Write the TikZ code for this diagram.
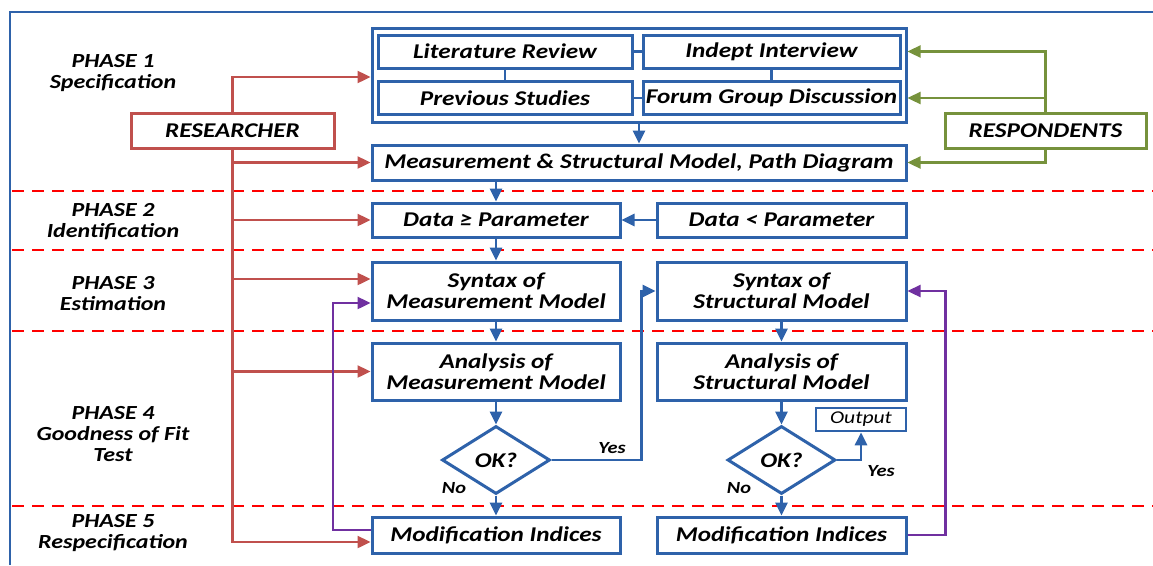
\documentclass[tikz,border=0pt]{standalone}
\usepackage{fontspec}
\setmainfont{Carlito}[FakeStretch=1.2]
\usetikzlibrary{arrows.meta,calc,shapes.geometric}
\definecolor{flowblue}{RGB}{46,98,170}
\definecolor{resred}{RGB}{192,80,77}
\definecolor{respgreen}{RGB}{118,146,60}
\definecolor{loopviolet}{RGB}{112,48,160}
\definecolor{phasered}{RGB}{255,0,0}
\begin{document}
\begin{tikzpicture}[x=1pt,y=-1pt,
  txt/.style={font=\fontsize{21}{21}\selectfont\bfseries\itshape},
  box/.style={txt,draw=flowblue,line width=3pt,fill=white,rectangle,
    inner sep=0pt,align=center},
  actor/.style={box,draw=#1},
  decide/.style={txt,draw=flowblue,line width=3pt,fill=white,diamond,
    inner sep=0pt,minimum width=108pt,minimum height=68pt},
  phase/.style={align=center,font=\fontsize{20}{21}\selectfont\bfseries\itshape},
  lbl/.style={font=\fontsize{17}{18}\selectfont\bfseries\itshape},
  tip/.style={-{Triangle[length=13pt,width=12pt]}},
  flow/.style={draw=flowblue,line width=2.8pt},
  resline/.style={draw=resred,line width=2.4pt},
  respline/.style={draw=respgreen,line width=2.4pt},
  loopline/.style={draw=loopviolet,line width=2.4pt},
  divider/.style={draw=phasered,line width=2.8pt,dash pattern=on 12pt off 8pt}
]
\useasboundingbox (0,0) rectangle (1153,565);

% outer frame
\draw[flowblue,line width=2.6pt] (10,565) -- (10,12) -- (1153,12);

% phase dividers
\foreach \yy in {191,250,331,506}
  \draw[divider] (12,\yy) -- (1153,\yy);

% phase titles
\node[phase] (p1) at (113,73)  {PHASE 1\\Specification};
\node[phase] (p2) at (113,222) {PHASE 2\\Identification};
\node[phase] (p3) at (113,294) {PHASE 3\\Estimation};
\node[phase] (p4) at (113,434) {PHASE 4\\Goodness of Fit\\Test};
\node[phase] (p5) at (113,533) {PHASE 5\\Respecification};

% specification sources
\node[box,minimum width=534pt,minimum height=94pt] (grp) at (639,75) {};
\node[box,minimum width=254pt,minimum height=33pt] (lit)  at (505,51.5) {Literature Review};
\node[box,minimum width=257pt,minimum height=33pt] (ind)  at (771.5,51.5) {Indept Interview};
\node[box,minimum width=254pt,minimum height=33pt] (prev) at (505,98) {Previous Studies};
\node[box,minimum width=257pt,minimum height=33pt] (fgd)  at (771.5,98) {Forum Group Discussion};
\draw[flow] (lit.east) -- (ind.west);
\draw[flow] (prev.east) -- (fgd.west);
\draw[flow] (lit.south) -- (prev.north);
\draw[flow] (ind.south) -- (fgd.north);

\node[box,minimum width=534pt,minimum height=35pt] (meas) at (639,162.5)
  {Measurement \& Structural Model, Path Diagram};

% actors
\node[actor=resred,minimum width=203pt,minimum height=35pt] (res) at (232.5,130.5) {RESEARCHER};
\node[actor=respgreen,minimum width=201pt,minimum height=35pt] (resp) at (1045.5,130.5) {RESPONDENTS};

% identification
\node[box,minimum width=248pt,minimum height=34pt] (dge) at (496,220) {Data ≥ Parameter};
\node[box,minimum width=249pt,minimum height=34pt] (dlt) at (781.5,220) {Data < Parameter};

% estimation
\node[box,minimum width=248pt,minimum height=58pt] (smm) at (496,291) {Syntax of\\Measurement Model};
\node[box,minimum width=249pt,minimum height=58pt] (ssm) at (781.5,291) {Syntax of\\Structural Model};

% goodness of fit
\node[box,minimum width=248pt,minimum height=57pt] (amm) at (496,371.5) {Analysis of\\Measurement Model};
\node[box,minimum width=249pt,minimum height=57pt] (asm) at (781.5,371.5) {Analysis of\\Structural Model};
\node[decide] (okl) at (496,460) {OK?};
\node[decide] (okr) at (781.5,460) {OK?};
\node[box,font=\fontsize{18}{18}\selectfont\itshape,line width=2.6pt,
  minimum width=90pt,minimum height=23pt] (out) at (861,419.5) {Output};

% respecification
\node[box,minimum width=248pt,minimum height=36pt] (mil) at (496,535) {Modification Indices};
\node[box,minimum width=249pt,minimum height=36pt] (mir) at (781.5,535) {Modification Indices};

% researcher inputs
\draw[resline,tip] (res.north) |- ($(grp.west)+(0,2)$);
\draw[resline,tip] (res.south) |- (meas.west);
\draw[resline,tip] (res.south) |- (dge.west);
\draw[resline,tip] (res.south) |- ($(smm.west)+(0,-12)$);
\draw[resline,tip] (res.south) |- (amm.west);
\draw[resline,tip] (res.south) |- ($(mil.west)+(0,7)$);

% respondent inputs
\draw[respline,tip] (resp.north) |- (grp.east |- ind.east);
\draw[respline,tip] (resp.north) |- (grp.east |- fgd.east);
\draw[respline,tip] (resp.south) |- (meas.east);

% main flow
\draw[flow,tip] (grp.south) -- (meas.north);
\draw[flow,tip] (dge.north |- meas.south) -- (dge.north);
\draw[flow,tip] (dlt.west) -- (dge.east);
\draw[flow,tip] (dge.south) -- (smm.north);
\draw[flow,tip] (smm.south) -- (amm.north);
\draw[flow,tip] (amm.south) -- (okl.north);
\draw[flow,tip] (okl.south) -- (mil.north);
\draw[flow,tip] (okl.east) -- ++(90,0) |- (ssm.west);
\draw[flow,tip] (ssm.south) -- (asm.north);
\draw[flow,tip] (asm.south) -- (okr.north);
\draw[flow,tip] (okr.south) -- (mir.north);
\draw[flow,tip] (okr.east) -| (out.south);

% decision labels
\node[lbl] (yl) at (612,448) {Yes};
\node[lbl] (nl) at (454,488) {No};
\node[lbl] (yr) at (881,471) {Yes};
\node[lbl] (nr) at (739,488) {No};

% respecification loops
\draw[loopline,tip] ($(mil.west)+(0,-5)$) -| (333,400) |- ($(smm.west)+(0,12)$);
\draw[loopline,tip] (mir.east) -- ++(38,0) |- (ssm.east);
\end{tikzpicture}
\end{document}
